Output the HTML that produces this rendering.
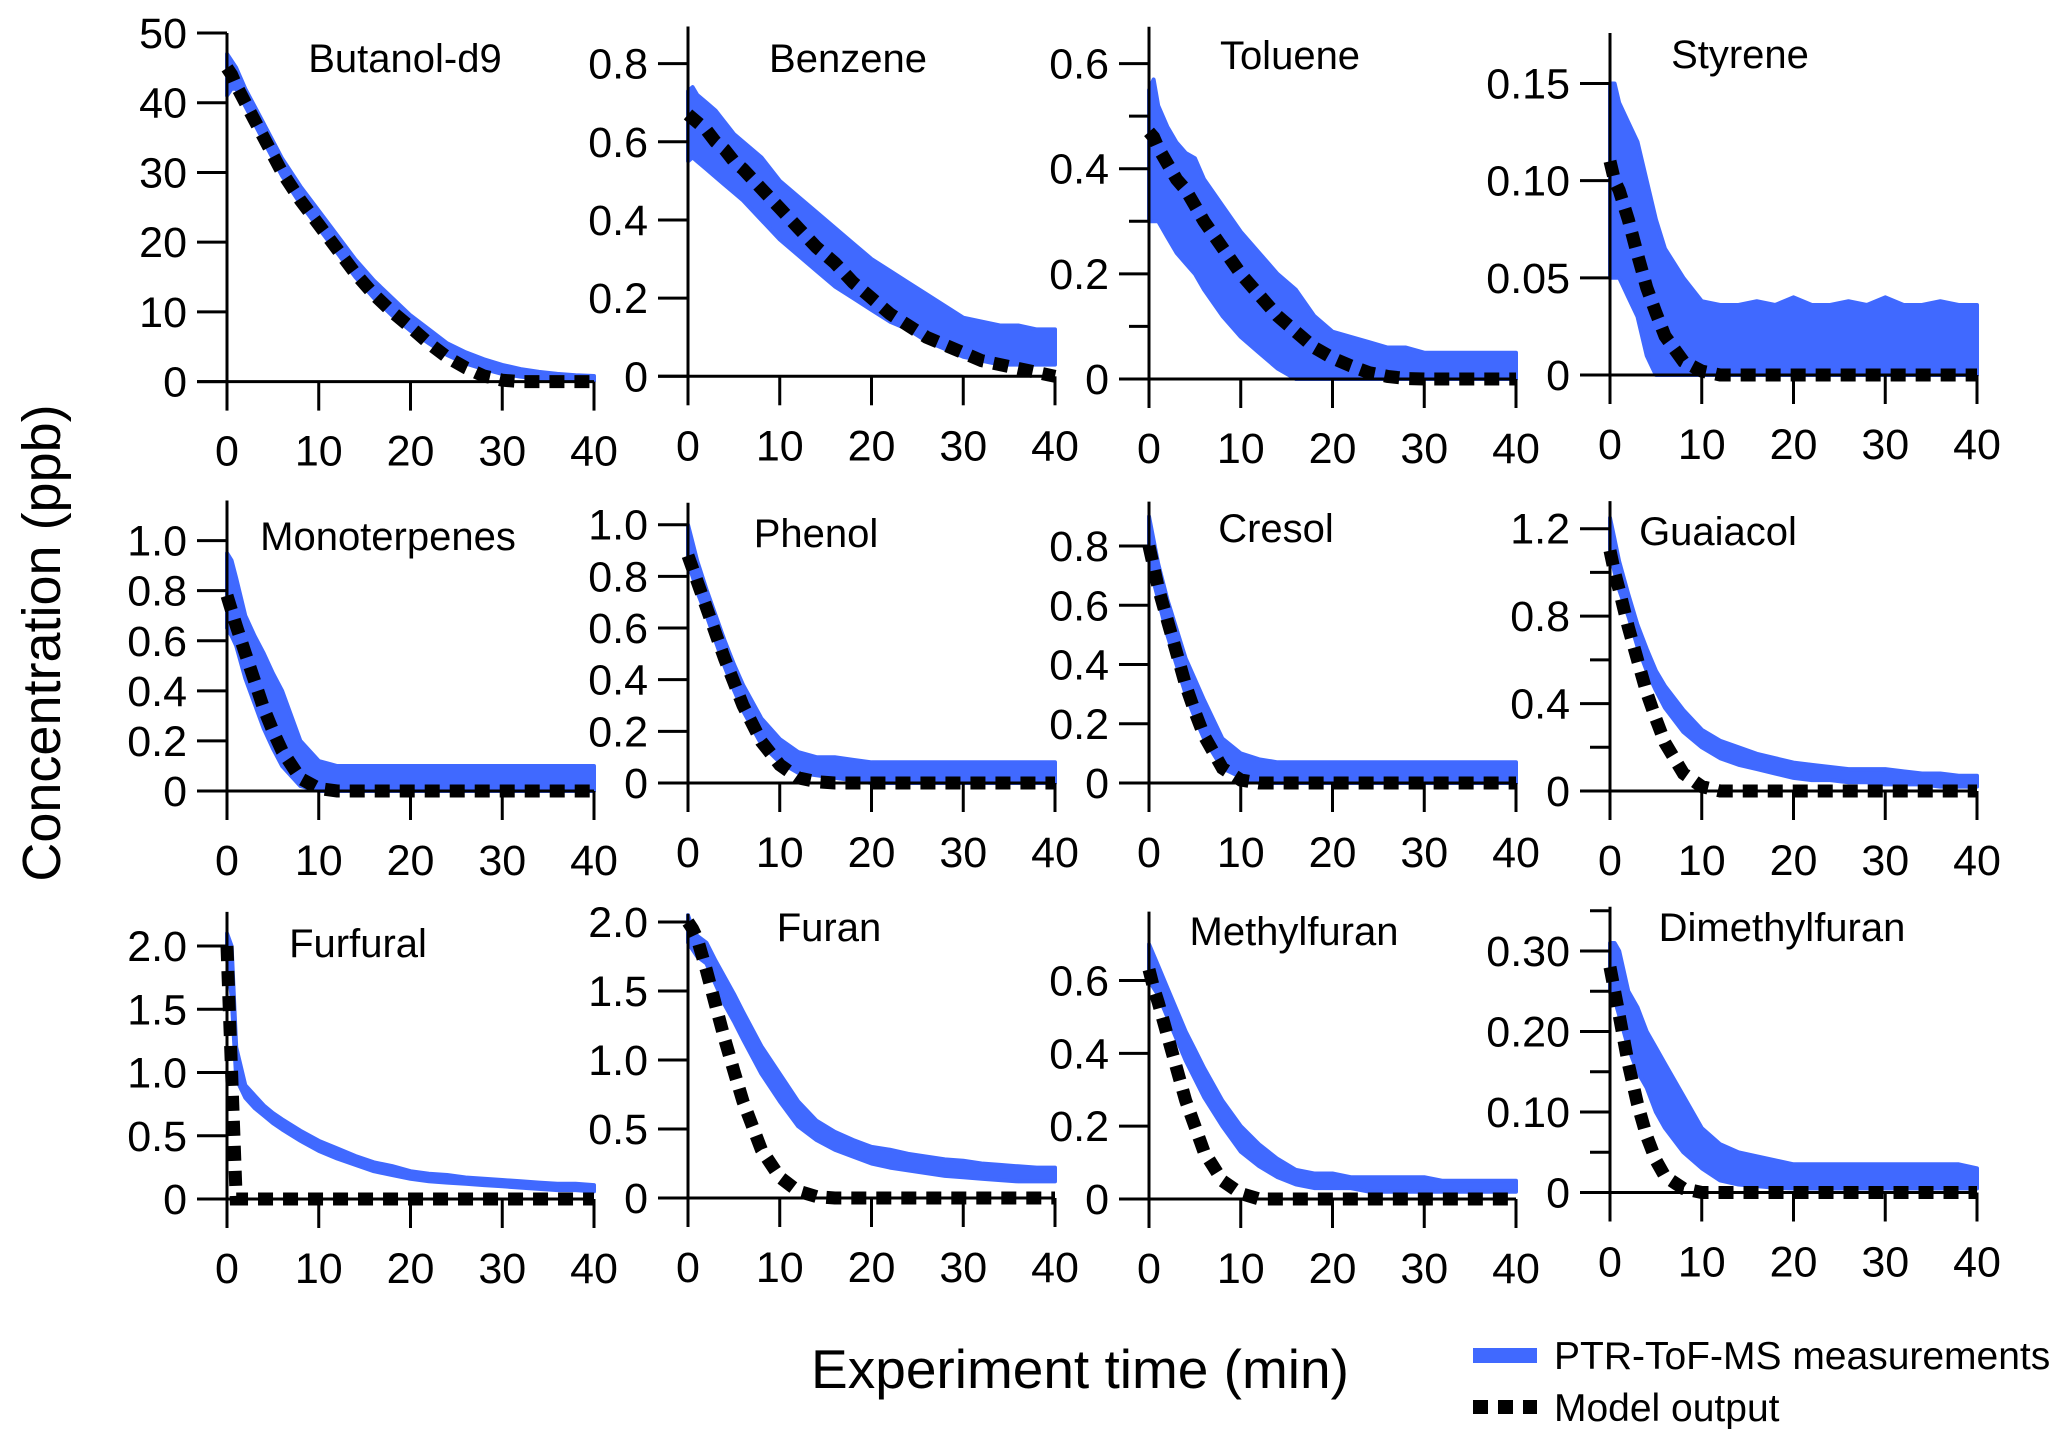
<!DOCTYPE html>
<html><head><meta charset="utf-8"><style>
html,body{margin:0;padding:0;background:#fff}
svg{display:block}
text{font-family:"Liberation Sans",sans-serif;fill:#000}
</style></head><body>
<svg id="chart" width="2067" height="1439" viewBox="0 0 2067 1439" xmlns="http://www.w3.org/2000/svg">
<text x="0" y="0" font-size="54" text-anchor="middle" transform="translate(60,643) rotate(-90)">Concentration (ppb)</text>
<text x="1080" y="1388" font-size="55" text-anchor="middle">Experiment time (min)</text>
<g>
<rect x="1473" y="1348" width="64" height="15" fill="#4069ff"/>
<text x="1554" y="1369" font-size="39">PTR-ToF-MS measurements</text>
<line x1="1473" y1="1407" x2="1537" y2="1407" stroke="#000" stroke-width="14" stroke-dasharray="15 10"/>
<text x="1554" y="1421" font-size="39">Model output</text>
</g>
</svg>
<script>
const timeMin=[0,0.5,1,2,3,4,5,6,8,10,12,14,16,18,20,22,24,26,28,30,32,34,36,38,40];
const xTicks=[0,10,20,30,40];
const panelNames=["Butanol-d9","Benzene","Toluene","Styrene","Monoterpenes","Phenol","Cresol","Guaiacol","Furfural","Furan","Methylfuran","Dimethylfuran"];
const butanolUpper=[47,46,45,42,39.5,37,34.5,32,28,24.5,21,17.5,14.5,12,9.5,7.5,5.5,4.2,3.2,2.4,1.8,1.4,1.1,0.9,0.8];
const butanolLower=[41,42,42,39.5,37,34.5,32,29.5,25.5,22,18.5,15,12,9.5,7.3,5.5,3.8,2.6,1.8,1.1,0.7,0.4,0.2,0.1,0.1];
const butanolModel=[45,44,42.5,40,37.5,35,32.5,30,26,22.5,19,15.5,12.5,10,7.8,5.5,3.5,2,0.8,0.2,0,0,0,0,0];
const benzeneUpper=[0.73,0.74,0.72,0.7,0.68,0.65,0.62,0.6,0.56,0.5,0.46,0.42,0.38,0.34,0.3,0.27,0.24,0.21,0.18,0.15,0.14,0.13,0.13,0.12,0.12];
const benzeneLower=[0.55,0.56,0.55,0.53,0.51,0.49,0.47,0.45,0.4,0.35,0.31,0.27,0.23,0.2,0.17,0.14,0.12,0.09,0.07,0.05,0.04,0.03,0.03,0.03,0.03];
const benzeneModel=[0.67,0.66,0.65,0.63,0.6,0.58,0.55,0.53,0.48,0.43,0.38,0.33,0.29,0.24,0.2,0.16,0.13,0.1,0.08,0.06,0.04,0.03,0.02,0.01,0];
const tolueneUpper=[0.55,0.57,0.52,0.48,0.45,0.43,0.42,0.38,0.33,0.28,0.24,0.2,0.17,0.12,0.09,0.08,0.07,0.06,0.06,0.05,0.05,0.05,0.05,0.05,0.05];
const tolueneLower=[0.3,0.3,0.3,0.27,0.24,0.22,0.2,0.17,0.12,0.08,0.05,0.02,0,0,0,0,0,0,0,0,0,0,0,0,0];
const tolueneModel=[0.47,0.46,0.44,0.41,0.38,0.36,0.33,0.3,0.25,0.2,0.16,0.12,0.09,0.06,0.04,0.025,0.012,0.005,0.001,0,0,0,0,0,0];
const styreneUpper=[0.15,0.15,0.14,0.13,0.12,0.1,0.08,0.065,0.05,0.038,0.036,0.036,0.038,0.036,0.04,0.036,0.036,0.038,0.036,0.04,0.036,0.036,0.038,0.036,0.036];
const styreneLower=[0.05,0.05,0.05,0.04,0.03,0.01,0,0,0,0,0,0,0,0,0,0,0,0,0,0,0,0,0,0,0];
const styreneModel=[0.11,0.1,0.095,0.08,0.062,0.045,0.032,0.02,0.007,0.002,0,0,0,0,0,0,0,0,0,0,0,0,0,0,0];
const monoUpper=[0.95,0.92,0.85,0.7,0.62,0.55,0.47,0.4,0.2,0.12,0.1,0.1,0.1,0.1,0.1,0.1,0.1,0.1,0.1,0.1,0.1,0.1,0.1,0.1,0.1];
const monoLower=[0.65,0.62,0.58,0.45,0.35,0.25,0.17,0.1,0.02,0,0,0,0,0,0,0,0,0,0,0,0,0,0,0,0];
const monoModel=[0.78,0.72,0.66,0.55,0.44,0.33,0.24,0.16,0.05,0.01,0,0,0,0,0,0,0,0,0,0,0,0,0,0,0];
const phenolUpper=[1.0,0.93,0.86,0.75,0.65,0.55,0.46,0.38,0.25,0.17,0.12,0.1,0.1,0.09,0.08,0.08,0.08,0.08,0.08,0.08,0.08,0.08,0.08,0.08,0.08];
const phenolLower=[0.85,0.8,0.74,0.65,0.55,0.45,0.36,0.28,0.15,0.08,0.04,0.03,0.02,0.01,0,0,0,0,0,0,0,0,0,0,0];
const phenolModel=[0.88,0.83,0.78,0.68,0.58,0.48,0.39,0.3,0.16,0.07,0.02,0.005,0,0,0,0,0,0,0,0,0,0,0,0,0];
const cresolUpper=[0.9,0.82,0.74,0.62,0.52,0.42,0.35,0.28,0.15,0.1,0.08,0.07,0.07,0.07,0.07,0.07,0.07,0.07,0.07,0.07,0.07,0.07,0.07,0.07,0.07];
const cresolLower=[0.75,0.68,0.62,0.5,0.4,0.3,0.22,0.15,0.05,0.02,0,0,0,0,0,0,0,0,0,0,0,0,0,0,0];
const cresolModel=[0.8,0.73,0.66,0.55,0.44,0.33,0.24,0.16,0.05,0.01,0,0,0,0,0,0,0,0,0,0,0,0,0,0,0];
const guaiacolUpper=[1.25,1.15,1.05,0.9,0.76,0.65,0.55,0.48,0.37,0.28,0.23,0.2,0.17,0.15,0.13,0.12,0.11,0.1,0.1,0.1,0.09,0.08,0.08,0.07,0.07];
const guaiacolLower=[1.1,1.0,0.92,0.8,0.66,0.55,0.46,0.38,0.27,0.2,0.15,0.12,0.1,0.08,0.06,0.05,0.05,0.04,0.04,0.03,0.03,0.03,0.02,0.02,0.02];
const guaiacolModel=[1.1,1.0,0.92,0.75,0.6,0.45,0.33,0.22,0.08,0.02,0,0,0,0,0,0,0,0,0,0,0,0,0,0,0];
const furfuralUpper=[2.1,2.0,1.2,0.9,0.82,0.74,0.68,0.63,0.54,0.46,0.4,0.34,0.29,0.26,0.22,0.2,0.19,0.17,0.16,0.15,0.14,0.13,0.12,0.12,0.11];
const furfuralLower=[1.9,1.6,0.95,0.8,0.72,0.66,0.6,0.55,0.46,0.38,0.32,0.27,0.22,0.19,0.16,0.14,0.13,0.12,0.11,0.1,0.09,0.08,0.07,0.07,0.06];
const furfuralModel=[2.0,1.0,0,0,0,0,0,0,0,0,0,0,0,0,0,0,0,0,0,0,0,0,0,0,0];
const furanUpper=[2.05,1.95,1.9,1.85,1.72,1.6,1.48,1.35,1.1,0.9,0.7,0.56,0.48,0.42,0.37,0.35,0.32,0.3,0.28,0.27,0.25,0.24,0.23,0.22,0.22];
const furanLower=[1.85,1.8,1.75,1.7,1.55,1.4,1.28,1.15,0.9,0.7,0.52,0.42,0.35,0.3,0.25,0.22,0.2,0.18,0.16,0.15,0.14,0.13,0.12,0.12,0.12];
const furanModel=[2.0,1.95,1.88,1.65,1.4,1.15,0.92,0.7,0.35,0.15,0.05,0.01,0,0,0,0,0,0,0,0,0,0,0,0,0];
const methylUpper=[0.7,0.67,0.64,0.58,0.52,0.46,0.41,0.36,0.27,0.2,0.15,0.11,0.08,0.07,0.07,0.06,0.06,0.06,0.06,0.06,0.05,0.05,0.05,0.05,0.05];
const methylLower=[0.6,0.58,0.56,0.5,0.44,0.38,0.33,0.28,0.2,0.13,0.09,0.06,0.04,0.03,0.03,0.03,0.02,0.02,0.02,0.02,0.02,0.02,0.02,0.02,0.02];
const methylModel=[0.63,0.58,0.54,0.45,0.36,0.27,0.2,0.13,0.05,0.015,0,0,0,0,0,0,0,0,0,0,0,0,0,0,0];
const dimethUpper=[0.31,0.31,0.3,0.25,0.23,0.2,0.18,0.16,0.12,0.08,0.06,0.05,0.045,0.04,0.035,0.035,0.035,0.035,0.035,0.035,0.035,0.035,0.035,0.035,0.03];
const dimethLower=[0.25,0.24,0.22,0.18,0.15,0.13,0.1,0.08,0.05,0.03,0.015,0.01,0.008,0.006,0.005,0.005,0.005,0.005,0.005,0.005,0.005,0.005,0.005,0.005,0.005];
const dimethModel=[0.28,0.25,0.22,0.16,0.11,0.07,0.04,0.02,0.005,0,0,0,0,0,0,0,0,0,0,0,0,0,0,0,0];

const yTickSets=[
 {maj:[0,10,20,30,40,50],lab:["0","10","20","30","40","50"],min:[]},
 {maj:[0,0.2,0.4,0.6,0.8],lab:["0","0.2","0.4","0.6","0.8"],min:[]},
 {maj:[0,0.2,0.4,0.6],lab:["0","0.2","0.4","0.6"],min:[0.1,0.3,0.5]},
 {maj:[0,0.05,0.1,0.15],lab:["0","0.05","0.10","0.15"],min:[]},
 {maj:[0,0.2,0.4,0.6,0.8,1.0],lab:["0","0.2","0.4","0.6","0.8","1.0"],min:[]},
 {maj:[0,0.2,0.4,0.6,0.8,1.0],lab:["0","0.2","0.4","0.6","0.8","1.0"],min:[]},
 {maj:[0,0.2,0.4,0.6,0.8],lab:["0","0.2","0.4","0.6","0.8"],min:[]},
 {maj:[0,0.4,0.8,1.2],lab:["0","0.4","0.8","1.2"],min:[0.2,0.6,1.0]},
 {maj:[0,0.5,1,1.5,2],lab:["0","0.5","1.0","1.5","2.0"],min:[]},
 {maj:[0,0.5,1,1.5,2],lab:["0","0.5","1.0","1.5","2.0"],min:[]},
 {maj:[0,0.2,0.4,0.6],lab:["0","0.2","0.4","0.6"],min:[]},
 {maj:[0,0.1,0.2,0.3],lab:["0","0.10","0.20","0.30"],min:[0.05,0.15,0.25,0.35]}
];
const series=[
 [butanolUpper,butanolLower,butanolModel],[benzeneUpper,benzeneLower,benzeneModel],[tolueneUpper,tolueneLower,tolueneModel],[styreneUpper,styreneLower,styreneModel],
 [monoUpper,monoLower,monoModel],[phenolUpper,phenolLower,phenolModel],[cresolUpper,cresolLower,cresolModel],[guaiacolUpper,guaiacolLower,guaiacolModel],
 [furfuralUpper,furfuralLower,furfuralModel],[furanUpper,furanLower,furanModel],[methylUpper,methylLower,methylModel],[dimethUpper,dimethLower,dimethModel]
];
// layout: [x0, zeroY, refValue, refY, axisTopVal, titleX, titleY]
const layout=[
 [227,381.6,50,33,50,405,72],[688,376.3,0.8,63.6,0.895,848,72],[1149,379,0.6,63.6,0.67,1290,69],[1610,375,0.15,83.5,0.176,1740,68],
 [227,791,1.0,540.6,1.16,388,550],[688,783,1.0,524.7,1.085,816,547],[1149,783,0.8,546,0.95,1276,542],[1610,791,1.2,528.7,1.326,1718,545],
 [227,1199,2.0,946,2.27,358,957],[688,1198,2.0,922,2.06,829,941],[1149,1199,0.6,980.5,0.789,1294,945],[1610,1192.5,0.3,951,0.355,1782,941]
];
const NS="http://www.w3.org/2000/svg";
const svg=document.getElementById('chart');
function mk(tag,attrs,parent){const e=document.createElementNS(NS,tag);for(const k in attrs)e.setAttribute(k,attrs[k]);parent.appendChild(e);return e;}
const XSPAN=367;
panelNames.forEach((name,i)=>{
 const L=layout[i],x0=L[0],zy=L[1],ky=(zy-L[3])/L[2];
 const X=t=>x0+t/40*XSPAN, Y=v=>zy-v*ky;
 const g=mk('g',{},svg);
 
 
 const s=series[i];
 let pts=[];
 timeMin.forEach((t,j)=>pts.push(X(t).toFixed(1)+','+Y(s[0][j]).toFixed(1)));
 for(let j=timeMin.length-1;j>=0;j--)pts.push(X(timeMin[j]).toFixed(1)+','+Y(s[1][j]).toFixed(1));
 const band=mk('polygon',{points:pts.join(' '),fill:'#4069ff',stroke:'#4069ff','stroke-width':4,'stroke-linejoin':'round'},g);
 
 
 const ax=mk('path',{d:`M${x0},${Y(L[4])} V${zy} M${x0-30},${zy} H${X(40)}`,stroke:'#000','stroke-width':3,fill:'none'},g);
 
 
 const T=yTickSets[i];
 T.maj.forEach((v,k)=>{
  mk('line',{x1:x0-30,x2:x0,y1:Y(v),y2:Y(v),stroke:'#000','stroke-width':3},g);
  const tl=mk('text',{x:x0-40,y:Y(v)+15,'font-size':43,'text-anchor':'end'},g);
  tl.textContent=T.lab[k];
  
  
 });
 T.min.forEach(v=>{ if(v<=L[4]) mk('line',{x1:x0-20,x2:x0,y1:Y(v),y2:Y(v),stroke:'#000','stroke-width':3},g);});
 xTicks.forEach(t=>{
  mk('line',{x1:X(t),x2:X(t),y1:zy,y2:zy+29,stroke:'#000','stroke-width':3},g);
  const tl=mk('text',{x:X(t),y:zy+84,'font-size':43,'text-anchor':'middle'},g);
  tl.textContent=String(t);
  
  
 });
 const mp=timeMin.map((t,j)=>(j?'L':'M')+X(t).toFixed(1)+','+Y(s[2][j]).toFixed(1)).join(' ');
 const ml=mk('path',{d:mp,stroke:'#000','stroke-width':13,fill:'none','stroke-dasharray':'15 10'},g);
 
 
 const tt=mk('text',{x:L[5],y:L[6],'font-size':40,'text-anchor':'middle'},g);
 tt.textContent=name;
 
 
});
</script>
</body></html>
